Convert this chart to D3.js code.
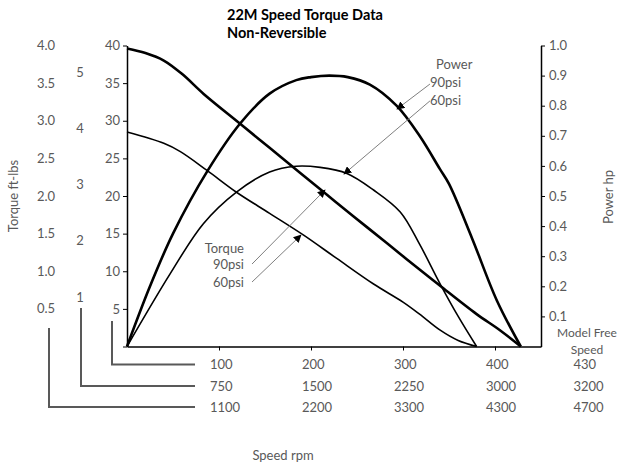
<!DOCTYPE html>
<html><head><meta charset="utf-8">
<script src="https://cdn.jsdelivr.net/npm/d3@7/dist/d3.min.js"></script>
<style>
html,body{margin:0;padding:0;background:#fff;}
text{font-family:Lato,"Liberation Sans",sans-serif;}
</style></head>
<body>
<svg id="chart" width="617" height="468"></svg>
<script>
// ---------- data ----------
const torque90Rpm = [0, 20, 40, 60, 83, 123, 155, 188, 217, 246, 282, 304, 340, 380, 405, 428];
const torque90Val = [39.6, 39.0, 38.0, 36.2, 33.6, 29.6, 26.4, 23.1, 20.2, 17.3, 13.8, 11.6, 8.1, 4.3, 2.2, 0];
const torque60Rpm = [0, 40, 58, 87, 119, 155, 192, 228, 268, 300, 318, 340, 360, 380];
const torque60Val = [28.5, 27.0, 25.9, 23.4, 20.5, 17.7, 14.8, 11.7, 8.3, 5.9, 4.3, 2.2, 0.8, 0];
const power90Rpm = [0, 25, 50, 88, 123, 155, 184, 200, 220, 240, 264, 293, 318, 340, 350, 375, 402, 428];
const power90Val = [0, 0.2, 0.375, 0.586, 0.741, 0.84, 0.885, 0.895, 0.90, 0.895, 0.87, 0.80, 0.70, 0.59, 0.54, 0.36, 0.153, 0];
const power60Rpm = [0, 47, 83, 119, 155, 184, 210, 239, 268, 297, 318, 340, 360, 380];
const power60Val = [0, 0.242, 0.408, 0.513, 0.58, 0.599, 0.595, 0.575, 0.52, 0.447, 0.34, 0.21, 0.10, 0];

const torqueTicks = [0, 5, 10, 15, 20, 25, 30, 35, 40];
const powerTicks = [0.1, 0.2, 0.3, 0.4, 0.5, 0.6, 0.7, 0.8, 0.9, 1.0];
const speedTicks = [100, 200, 300, 400];
const ftlbLabels = ["4.0", "3.5", "3.0", "2.5", "2.0", "1.5", "1.0", "0.5"];
const ftlbValues = [4.0, 3.5, 3.0, 2.5, 2.0, 1.5, 1.0, 0.5];
const nmValues = [5, 4, 3, 2, 1];
const speedRow1 = ["100", "200", "300", "400", "430"];
const speedRow2 = ["750", "1500", "2250", "3000", "3200"];
const speedRow3 = ["1100", "2200", "3300", "4300", "4700"];

// ---------- setup ----------
const svg = d3.select("#chart");
const grey = "#595959";
const x = d3.scaleLinear().domain([0, 450]).range([127, 541]);
const yT = d3.scaleLinear().domain([0, 40]).range([346.5, 45.5]);
const yP = d3.scaleLinear().domain([0, 1]).range([346.5, 45.5]);
const yFt = d3.scaleLinear().domain([0, 4]).range([346.5, 45.5]);
const yNm = d3.scaleLinear().domain([1, 5]).range([297, 72]);

svg.append("rect").attr("width", 617).attr("height", 468).attr("fill", "#fff");

// title
svg.append("text").attr("x", 227).attr("y", 20).attr("font-size", 14.5).attr("font-weight", "bold")
  .attr("fill", "#000").text("22M Speed Torque Data");
svg.append("text").attr("x", 227).attr("y", 38).attr("font-size", 14.5).attr("font-weight", "bold")
  .attr("fill", "#000").text("Non-Reversible");

// axes
function styleAxis(g) {
  g.selectAll("path").attr("stroke", "#000").attr("stroke-width", 1.5);
  g.selectAll("line").attr("stroke", "#000").attr("stroke-width", 1);
  g.selectAll("text").attr("fill", grey).attr("font-size", 13).attr("font-family", "Lato, sans-serif");
}
svg.append("g").attr("transform", `translate(${x(0)},0)`)
  .call(d3.axisLeft(yT).tickValues(torqueTicks).tickSize(4).tickSizeOuter(0).tickPadding(3)
    .tickFormat(d => d === 0 ? "" : d))
  .call(styleAxis);
svg.append("g").attr("transform", `translate(${x(450)},0)`)
  .call(d3.axisRight(yP).tickValues(powerTicks).tickSize(4).tickSizeOuter(0).tickPadding(4)
    .tickFormat(d3.format(".1f")))
  .call(styleAxis);
svg.append("g").attr("transform", `translate(0,${yT(0)})`)
  .call(d3.axisBottom(x).tickValues(speedTicks).tickSize(4).tickSizeOuter(0).tickFormat(""))
  .call(styleAxis);

// secondary torque label columns
svg.append("g").selectAll("text").data(ftlbValues).join("text")
  .attr("x", 46).attr("y", d => yFt(d)).attr("dy", "0.35em").attr("text-anchor", "middle")
  .attr("font-size", 13).attr("fill", grey).text((d, i) => ftlbLabels[i]);
svg.append("g").selectAll("text").data(nmValues).join("text")
  .attr("x", 80).attr("y", d => yNm(d)).attr("dy", "0.35em").attr("text-anchor", "middle")
  .attr("font-size", 13).attr("fill", grey).text(d => d);

// bracket lines for the speed rows
const brackets = [
  {vx: 112, top: 321, y: 364.5},
  {vx: 81, top: 308, y: 386},
  {vx: 49, top: 328, y: 407}
];
svg.append("g").selectAll("path").data(brackets).join("path")
  .attr("d", b => `M${b.vx},${b.top}V${b.y}H195`)
  .attr("fill", "none").attr("stroke", grey).attr("stroke-width", 2);

// speed table
const colRpm = speedTicks.concat([495]);
[speedRow1, speedRow2, speedRow3].forEach((row, r) => {
  svg.append("g").selectAll("text").data(row).join("text")
    .attr("x", (d, i) => x(colRpm[i]) - 9).attr("y", brackets[r].y).attr("dy", "0.35em")
    .attr("font-size", 13).attr("fill", grey).text(d => d);
});

// axis titles
svg.append("text").attr("transform", "translate(18,196) rotate(-90)").attr("text-anchor", "middle")
  .attr("font-size", 13).attr("fill", grey).text("Torque ft-lbs");
svg.append("text").attr("transform", "translate(613,197) rotate(-90)").attr("text-anchor", "middle")
  .attr("font-size", 13).attr("fill", grey).text("Power hp");
svg.append("text").attr("x", 283).attr("y", 460).attr("text-anchor", "middle")
  .attr("font-size", 13).attr("fill", grey).text("Speed rpm");
svg.append("text").attr("x", 587).attr("y", 337).attr("text-anchor", "middle")
  .attr("font-size", 12).attr("fill", grey).text("Model Free");
svg.append("text").attr("x", 587).attr("y", 354).attr("text-anchor", "middle")
  .attr("font-size", 12).attr("fill", grey).text("Speed");

// curves
const lineT = d3.line().x(d => x(d[0])).y(d => yT(d[1])).curve(d3.curveCatmullRom.alpha(0.5));
const lineP = d3.line().x(d => x(d[0])).y(d => yP(d[1])).curve(d3.curveCatmullRom.alpha(0.5));
const series = [
  {gen: lineT, rpm: torque90Rpm, val: torque90Val, w: 2.6},
  {gen: lineT, rpm: torque60Rpm, val: torque60Val, w: 1.6},
  {gen: lineP, rpm: power90Rpm, val: power90Val, w: 2.6},
  {gen: lineP, rpm: power60Rpm, val: power60Val, w: 1.6}
];
series.forEach(s => {
  svg.append("path").attr("d", s.gen(s.rpm.map((r, i) => [r, s.val[i]])))
    .attr("fill", "none").attr("stroke", "#000").attr("stroke-width", s.w).attr("stroke-linejoin", "round");
});

// annotation arrows
svg.append("defs").append("marker").attr("id", "ah").attr("viewBox", "0 0 10 10")
  .attr("refX", 9).attr("refY", 5).attr("markerWidth", 8).attr("markerHeight", 8)
  .attr("markerUnits", "userSpaceOnUse").attr("orient", "auto")
  .append("path").attr("d", "M0,0L10,5L0,10z").attr("fill", "#000");
const arrows = [
  {from: [329.3, 0.872], to: [293.5, 0.789], s: yP},
  {from: [329.3, 0.816], to: [235.9, 0.573], s: yP},
  {from: [135.9, 10.96], to: [215.2, 20.8], s: yT},
  {from: [135.9, 8.57], to: [189.1, 14.8], s: yT}
];
svg.append("g").selectAll("line").data(arrows).join("line")
  .attr("x1", a => x(a.from[0])).attr("y1", a => a.s(a.from[1]))
  .attr("x2", a => x(a.to[0])).attr("y2", a => a.s(a.to[1]))
  .attr("stroke", "#7f7f7f").attr("stroke-width", 1).attr("marker-end", "url(#ah)");

const notes = [
  {t: "Power", x: 436, y: 64, a: "start"},
  {t: "90psi", x: 430, y: 82, a: "start"},
  {t: "60psi", x: 430, y: 100, a: "start"},
  {t: "Torque", x: 244, y: 248, a: "end"},
  {t: "90psi", x: 244, y: 264, a: "end"},
  {t: "60psi", x: 244, y: 282, a: "end"}
];
svg.append("g").selectAll("text").data(notes).join("text")
  .attr("x", n => n.x).attr("y", n => n.y).attr("dy", "0.35em").attr("text-anchor", n => n.a)
  .attr("font-size", 13).attr("fill", grey).text(n => n.t);
</script>
</body></html>
